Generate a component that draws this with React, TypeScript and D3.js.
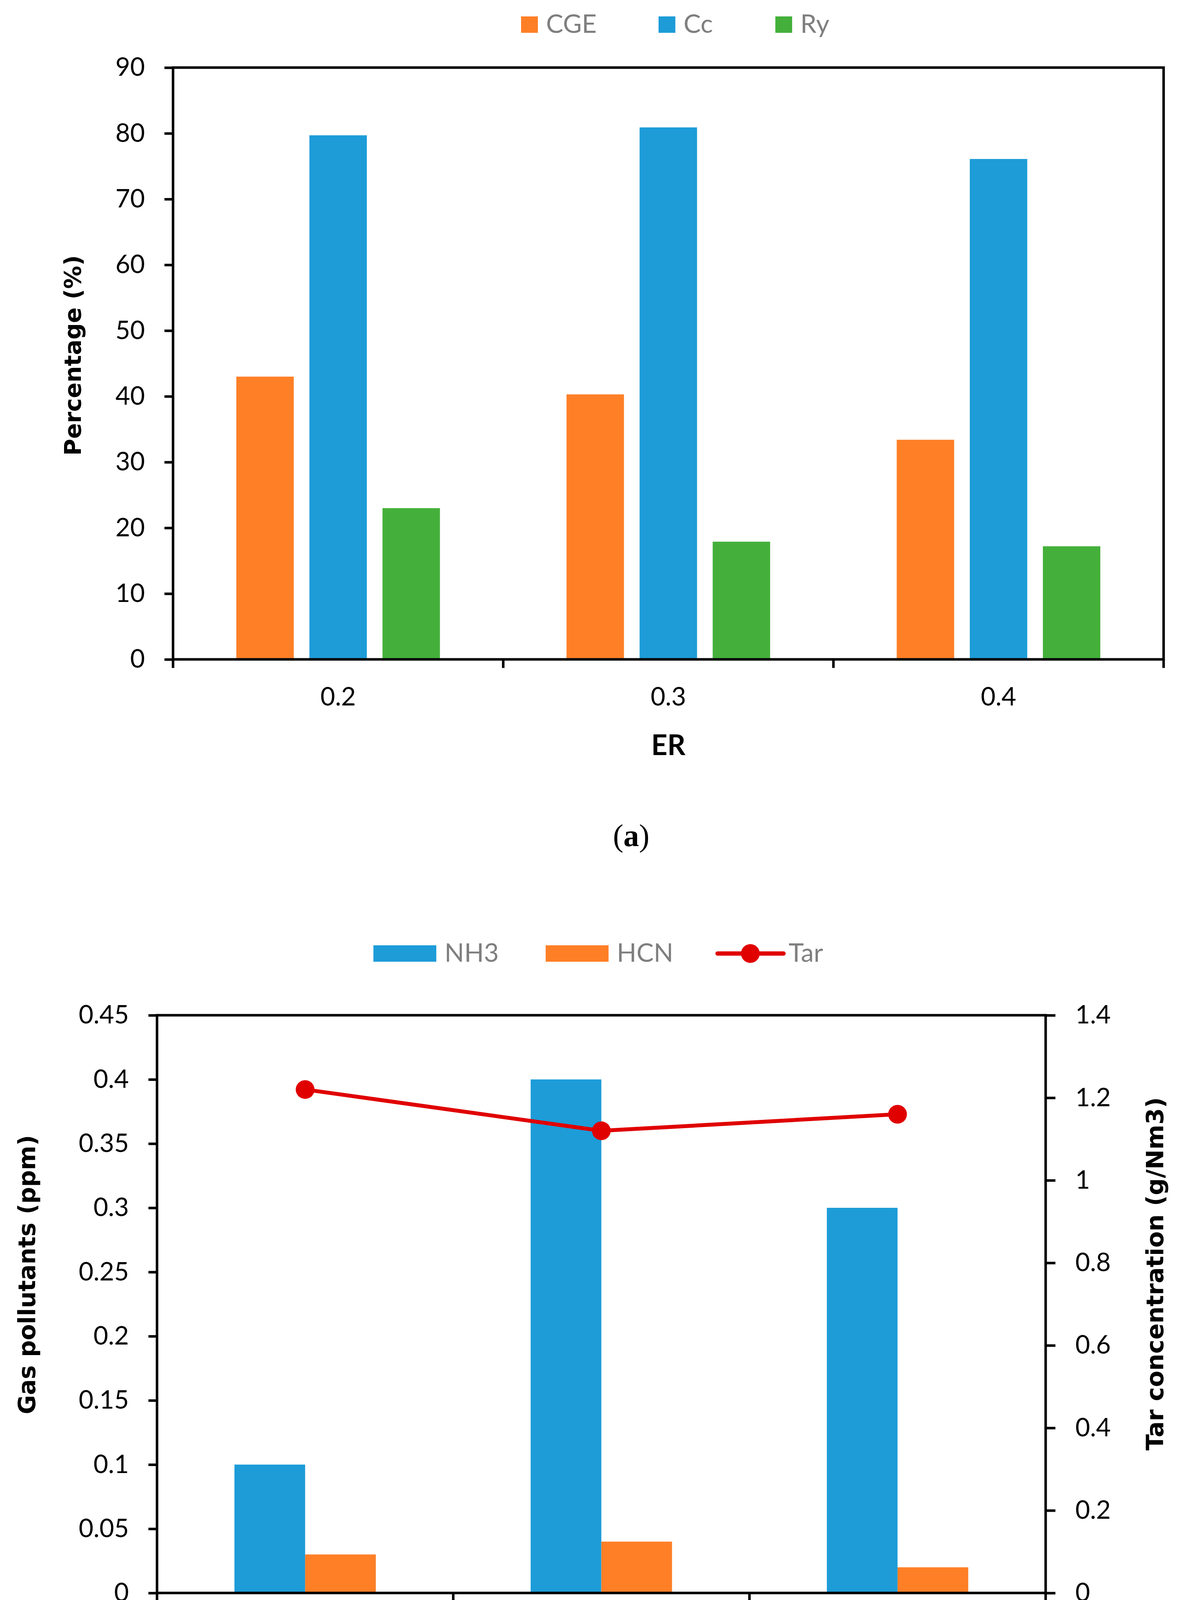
import { useEffect, useRef } from 'react';
import * as d3 from 'd3';

const WIDTH = 3044;
const HEIGHT = 4620;

const categories = ['0.2', '0.3', '0.4'];

// panel (a)
const seriesA = ['CGE', 'Cc', 'Ry'];
const cgeValues = [43, 40.3, 33.4];
const ccValues = [79.7, 80.9, 76.1];
const ryValues = [23, 17.9, 17.2];
const percentTicks = [0, 10, 20, 30, 40, 50, 60, 70, 80, 90];

// panel (b)
const seriesB = ['NH3', 'HCN'];
const nh3Values = [0.1, 0.4, 0.3];
const hcnValues = [0.03, 0.04, 0.02];
const tarValues = [1.22, 1.12, 1.16];
const gasTicks = [0, 0.05, 0.1, 0.15, 0.2, 0.25, 0.3, 0.35, 0.4, 0.45];
const tarTicks = [0, 0.2, 0.4, 0.6, 0.8, 1, 1.2, 1.4];

const ORANGE = '#ff7f27';
const BLUE = '#1d9cd8';
const GREEN = '#44b03b';
const RED = '#e00000';
const LEGEND_GREY = '#7f7f7f';

const TICK_FONT = 'Lato, Carlito, sans-serif';
const TITLE_FONT = '"DejaVu Sans", Verdana, sans-serif';
const CAPTION_FONT = '"Liberation Serif", "Times New Roman", serif';
const AXIS_W = 6.5;

type Sel = d3.Selection<SVGSVGElement, unknown, null, undefined>;

function styleAxis(g: d3.Selection<SVGGElement, unknown, null, undefined>, size: number) {
  g.select('.domain').remove();
  g.attr('font-family', TICK_FONT).attr('font-size', size);
  g.selectAll('line').attr('stroke', '#000').attr('stroke-width', AXIS_W);
  g.selectAll('text').attr('fill', '#000');
}

function caption(root: Sel, x: number, y: number, letter: string) {
  const t = root.append('text').attr('x', x).attr('y', y).attr('text-anchor', 'middle')
    .attr('font-family', CAPTION_FONT).attr('font-size', 80).attr('fill', '#000');
  t.append('tspan').text('(');
  t.append('tspan').attr('font-weight', 'bold').text(letter);
  t.append('tspan').text(')');
}

function drawPanelA(root: Sel) {
  const a = { left: 443, right: 2979, top: 173, bottom: 1688 };
  const x0 = d3.scaleBand().domain(categories).range([a.left, a.right]);
  const x1 = d3.scaleBand().domain(seriesA).range([0, x0.bandwidth()]).paddingInner(0.214).paddingOuter(0.866);
  const y = d3.scaleLinear().domain([0, 90]).range([a.bottom, a.top]);
  const values = [cgeValues, ccValues, ryValues];
  const colors = [ORANGE, BLUE, GREEN];

  // Bars
  seriesA.forEach((s, si) => {
    root.append('g').selectAll('rect').data(values[si]).join('rect')
      .attr('x', (_, i) => x0(categories[i])! + x1(s)!)
      .attr('y', d => y(d))
      .attr('width', x1.bandwidth())
      .attr('height', d => y(0) - y(d))
      .attr('fill', colors[si]);
  });

  // Axes
  const yG = root.append('g').attr('transform', `translate(${a.left},0)`)
    .call(d3.axisLeft(y).tickValues(percentTicks).tickSize(22).tickPadding(50).tickFormat(d => String(d)));
  styleAxis(yG, 65);

  const xG = root.append('g').attr('transform', `translate(0,${a.bottom})`)
    .call(d3.axisBottom(x0).tickSize(0).tickPadding(72));
  styleAxis(xG, 65);

  const bounds = [...categories.map(c => x0(c)!), a.right];
  root.append('g').selectAll('line').data(bounds).join('line')
    .attr('x1', d => d).attr('x2', d => d).attr('y1', a.bottom).attr('y2', a.bottom + 22)
    .attr('stroke', '#000').attr('stroke-width', AXIS_W);

  root.append('rect').attr('x', a.left).attr('y', a.top)
    .attr('width', a.right - a.left).attr('height', a.bottom - a.top)
    .attr('fill', 'none').attr('stroke', '#000').attr('stroke-width', AXIS_W);

  // Titles
  root.append('text').attr('x', (a.left + a.right) / 2).attr('y', 1933).attr('text-anchor', 'middle')
    .attr('font-family', TICK_FONT).attr('font-weight', 'bold').attr('font-size', 72).text('ER');
  root.append('text').attr('transform', 'translate(189,910) rotate(-90)').attr('dy', '0.3em')
    .attr('text-anchor', 'middle').attr('font-family', TITLE_FONT).attr('font-weight', 'bold')
    .attr('font-size', 59).text('Percentage (%)');

  // Legend
  const legendX = [1334, 1686, 1985];
  seriesA.forEach((s, si) => {
    root.append('rect').attr('x', legendX[si]).attr('y', 42).attr('width', 43).attr('height', 42).attr('fill', colors[si]);
    root.append('text').attr('x', legendX[si] + 64).attr('y', 84).attr('font-family', TICK_FONT)
      .attr('font-size', 66).attr('fill', LEGEND_GREY).text(s);
  });

  caption(root, 1616, 2166, 'a');
}

function drawPanelB(root: Sel) {
  const b = { left: 402, right: 2677, top: 2599, bottom: 4078 };
  const x0 = d3.scaleBand().domain(categories).range([b.left, b.right]);
  const x1 = d3.scaleBand().domain(seriesB).range([0, x0.bandwidth()]).paddingInner(0).paddingOuter(1.095);
  const y = d3.scaleLinear().domain([0, 0.45]).range([b.bottom, b.top]);
  const yTar = d3.scaleLinear().domain([0, 1.4]).range([b.bottom, b.top]);
  const values = [nh3Values, hcnValues];
  const colors = [BLUE, ORANGE];

  seriesB.forEach((s, si) => {
    root.append('g').selectAll('rect').data(values[si]).join('rect')
      .attr('x', (_, i) => x0(categories[i])! + x1(s)!)
      .attr('y', d => y(d))
      .attr('width', x1.bandwidth())
      .attr('height', d => y(0) - y(d))
      .attr('fill', colors[si]);
  });

  const yG = root.append('g').attr('transform', `translate(${b.left},0)`)
    .call(d3.axisLeft(y).tickValues(gasTicks).tickSize(22).tickPadding(50).tickFormat(d => String(d)));
  styleAxis(yG, 65);

  const yR = root.append('g').attr('transform', `translate(${b.right},0)`)
    .call(d3.axisRight(yTar).tickValues(tarTicks).tickSize(25).tickPadding(51).tickFormat(d => String(d)));
  styleAxis(yR, 65);

  const xG = root.append('g').attr('transform', `translate(0,${b.bottom})`)
    .call(d3.axisBottom(x0).tickSize(0).tickPadding(70));
  styleAxis(xG, 65);

  const bounds = [...categories.map(c => x0(c)!), b.right];
  root.append('g').selectAll('line').data(bounds).join('line')
    .attr('x1', d => d).attr('x2', d => d).attr('y1', b.bottom).attr('y2', b.bottom + 22)
    .attr('stroke', '#000').attr('stroke-width', AXIS_W);

  root.append('rect').attr('x', b.left).attr('y', b.top)
    .attr('width', b.right - b.left).attr('height', b.bottom - b.top)
    .attr('fill', 'none').attr('stroke', '#000').attr('stroke-width', AXIS_W);

  // Tar line
  const cx = (i: number) => x0(categories[i])! + x0.bandwidth() / 2;
  const line = d3.line<number>().x((_, i) => cx(i)).y(d => yTar(d));
  root.append('path').datum(tarValues).attr('d', line).attr('fill', 'none')
    .attr('stroke', RED).attr('stroke-width', 10).attr('stroke-linejoin', 'round');
  root.append('g').selectAll('circle').data(tarValues).join('circle')
    .attr('cx', (_, i) => cx(i)).attr('cy', d => yTar(d)).attr('r', 24).attr('fill', RED);

  // Titles
  root.append('text').attr('x', (b.left + b.right) / 2).attr('y', 4319).attr('text-anchor', 'middle')
    .attr('font-family', TICK_FONT).attr('font-weight', 'bold').attr('font-size', 72).text('ER');
  root.append('text').attr('transform', 'translate(72,3263) rotate(-90)').attr('dy', '0.3em')
    .attr('text-anchor', 'middle').attr('font-family', TITLE_FONT).attr('font-weight', 'bold')
    .attr('font-size', 60).text('Gas pollutants (ppm)');
  root.append('text').attr('transform', 'translate(2960,3261) rotate(-90)').attr('dy', '0.3em')
    .attr('text-anchor', 'middle').attr('font-family', TITLE_FONT).attr('font-weight', 'bold')
    .attr('font-size', 61).text('Tar concentration (g/Nm3)');

  // Legend
  const legendX = [956, 1397];
  seriesB.forEach((s, si) => {
    root.append('rect').attr('x', legendX[si]).attr('y', 2420).attr('width', 161).attr('height', 42).attr('fill', colors[si]);
    root.append('text').attr('x', legendX[si] + 182).attr('y', 2462).attr('font-family', TICK_FONT)
      .attr('font-size', 66).attr('fill', LEGEND_GREY).text(s);
  });
  root.append('line').attr('x1', 1837).attr('x2', 2006).attr('y1', 2441).attr('y2', 2441)
    .attr('stroke', RED).attr('stroke-width', 11).attr('stroke-linecap', 'round');
  root.append('circle').attr('cx', 1921).attr('cy', 2441).attr('r', 24).attr('fill', RED);
  root.append('text').attr('x', 2019).attr('y', 2462).attr('font-family', TICK_FONT)
    .attr('font-size', 66).attr('fill', LEGEND_GREY).text('Tar');

  caption(root, 1617, 4576, 'b');
}

export default function App() {
  const svgRef = useRef<SVGSVGElement>(null);

  useEffect(() => {
    document.body.style.margin = '0';
    const svg = svgRef.current;
    if (!svg) return;
    const root = d3.select(svg);
    root.selectAll('*').remove();
    drawPanelA(root);
    drawPanelB(root);
  }, []);

  return (
    <svg ref={svgRef} width={WIDTH} height={HEIGHT} viewBox={`0 0 ${WIDTH} ${HEIGHT}`}
      style={{ display: 'block', background: '#fff' }} />
  );
}
